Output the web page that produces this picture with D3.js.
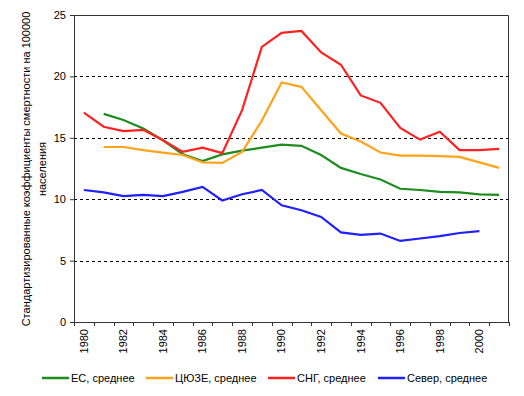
<!DOCTYPE html>
<html>
<head>
<meta charset="utf-8">
<script src="https://cdn.jsdelivr.net/npm/d3@7"></script>
<style>
  body { margin: 0; background: #fff; }
  text { font-family: "Liberation Sans", Arial, sans-serif; font-size: 11px; fill: #000; }
</style>
</head>
<body>
<div id="chart"></div>
<script>
// data
var years = d3.range(1980, 2002);
var es     = [null, 16.95, 16.45, 15.75, 14.8, 13.65, 13.1, 13.65, 13.95, 14.2, 14.45, 14.35, 13.6, 12.55, 12.05, 11.6, 10.85, 10.75, 10.6, 10.55, 10.4, 10.35];
var cuze   = [null, 14.25, 14.25, 14.0, 13.8, 13.6, 13.0, 12.95, 13.85, 16.4, 19.5, 19.15, 17.25, 15.35, 14.7, 13.8, 13.55, 13.55, 13.5, 13.45, 13.0, 12.55];
var sng    = [17.05, 15.9, 15.55, 15.65, 14.8, 13.85, 14.2, 13.75, 17.25, 22.4, 23.55, 23.7, 21.95, 20.95, 18.45, 17.85, 15.8, 14.85, 15.5, 14.0, 14.0, 14.1];
var sever  = [10.75, 10.55, 10.25, 10.35, 10.25, 10.6, 11.0, 9.9, 10.4, 10.75, 9.5, 9.1, 8.55, 7.3, 7.1, 7.2, 6.6, 6.8, 7.0, 7.25, 7.4, null];
var yTicks = [0, 5, 10, 15, 20, 25];

var series = [
  { name: "ЕС, среднее", values: es, color: "#1e8c1e" },
  { name: "ЦЮЗЕ, среднее", values: cuze, color: "#ffa31a" },
  { name: "СНГ, среднее", values: sng, color: "#ff2020" },
  { name: "Север, среднее", values: sever, color: "#2020ff" }
];

var svgWidth = 524, svgHeight = 396;
var margin = { top: 15, right: 15, bottom: 74, left: 74 };
var chartWidth = svgWidth - margin.left - margin.right;
var chartHeight = svgHeight - margin.top - margin.bottom;

var svg = d3.select("#chart").append("svg")
  .attr("width", svgWidth)
  .attr("height", svgHeight);

var chartGroup = svg.append("g")
  .attr("transform", `translate(${margin.left}, ${margin.top})`);

var x = d3.scaleBand().domain(years).range([0, chartWidth]);
var y = d3.scaleLinear().domain([0, 25]).range([chartHeight, 0]);

// dashed grid
chartGroup.selectAll(".grid")
  .data(yTicks.filter(d => d > 0 && d < 25))
  .enter()
  .append("line")
  .attr("x1", 0)
  .attr("x2", chartWidth)
  .attr("y1", d => Math.round(y(d)) + 0.5)
  .attr("y2", d => Math.round(y(d)) + 0.5)
  .attr("stroke", "#000")
  .attr("stroke-dasharray", "3,3");

// top and right border
chartGroup.append("path")
  .attr("d", `M0,0.5H${chartWidth - 0.5}V${chartHeight}`)
  .attr("fill", "none")
  .attr("stroke", "#333");

// y axis
var leftAxis = d3.axisLeft(y).tickValues(yTicks).tickSize(4).tickPadding(4);
var gy = chartGroup.append("g").call(leftAxis);
gy.select(".domain").attr("stroke", "#333");
gy.selectAll(".tick line").attr("stroke", "#333");
gy.selectAll("text").style("font-size", "11px").attr("font-family", null);

// x axis: ticks between categories, labels every other year
var bottomAxis = d3.axisBottom(x).tickSize(0).tickFormat(d => d % 2 === 0 ? d : "");
var gx = chartGroup.append("g")
  .attr("transform", `translate(0, ${chartHeight})`)
  .call(bottomAxis);
gx.select(".domain").attr("stroke", "#333");
gx.selectAll("text")
  .attr("font-family", null)
  .style("font-size", "11px")
  .attr("transform", "rotate(-90)")
  .attr("text-anchor", "end")
  .attr("x", -7)
  .attr("y", 0)
  .attr("dy", "0.35em");
gx.selectAll(".sep")
  .data(years.concat([2002]))
  .enter()
  .append("line")
  .attr("class", "sep")
  .attr("x1", (d, i) => Math.round(i * x.bandwidth()) + 0.5)
  .attr("x2", (d, i) => Math.round(i * x.bandwidth()) + 0.5)
  .attr("y1", 0)
  .attr("y2", 4)
  .attr("stroke", "#333");

// lines
var line = d3.line()
  .defined(d => d.v !== null)
  .x(d => x(d.year) + x.bandwidth() / 2)
  .y(d => y(d.v));

chartGroup.selectAll(".series")
  .data(series)
  .enter()
  .append("path")
  .attr("class", "series")
  .attr("fill", "none")
  .attr("stroke", d => d.color)
  .attr("stroke-width", 2.2)
  .attr("d", d => line(d.values.map((v, i) => ({ year: years[i], v: v }))));

// y axis title
var title = svg.append("text")
  .attr("transform", "translate(26, 169) rotate(-90)")
  .attr("text-anchor", "middle");
title.append("tspan").attr("x", 0).attr("dy", "0.35em")
  .text("Стандартизированные коэффициенты смертности на 100000");
title.append("tspan").attr("x", 0).attr("dy", "1.45em")
  .text("населения");

// legend
var legendX = [42, 146, 268, 378];
var legend = svg.selectAll(".legend")
  .data(series)
  .enter()
  .append("g")
  .attr("class", "legend")
  .attr("transform", (d, i) => `translate(${legendX[i]}, 378)`);
legend.append("line")
  .attr("x1", 0).attr("x2", 27)
  .attr("y1", 0).attr("y2", 0)
  .attr("stroke", d => d.color)
  .attr("stroke-width", 2.5);
legend.append("text")
  .attr("x", 29)
  .attr("dy", "0.35em")
  .text(d => d.name);
</script>
</body>
</html>
